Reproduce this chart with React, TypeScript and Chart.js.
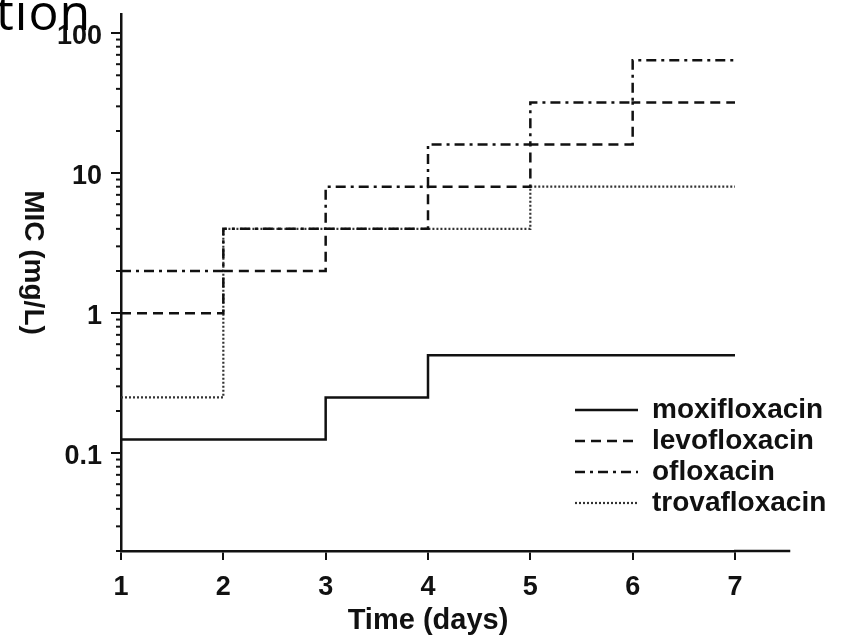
import React, { useEffect, useRef } from 'react';
import { Chart, registerables } from 'chart.js';

Chart.register(...registerables);

// ---------- data ----------
const days = [1, 2, 3, 4, 5, 6, 7];
const moxifloxacin = [0.125, 0.125, 0.25, 0.5, 0.5, 0.5, 0.5];
const levofloxacin = [1, 2, 4, 8, 16, 32, 32];
const ofloxacin = [2, 4, 8, 16, 32, 64, 64];
const trovafloxacin = [0.25, 4, 4, 4, 8, 8, 8];
const seriesNames = ['moxifloxacin', 'levofloxacin', 'ofloxacin', 'trovafloxacin'];
const yMajorTicks = [0.1, 1, 10, 100];
const yMin = 0.02;
const yMax = 137;
const xMin = 1;
const xMax = 7;
const xAxisEnd = 7.54;
const xTitle = 'Time (days)';
const yTitle = 'MIC (mg/L)';
const titleFragment = 'tion';

// ---------- styles ----------
const INK = '#111';
const FONT = '"Liberation Sans", Arial, Helvetica, sans-serif';
const MINOR_TICKS: number[] = [];
[0.01, 0.1, 1, 10].forEach((d) => {
  for (let m = 2; m <= 9; m++) MINOR_TICKS.push(+(d * m).toPrecision(3));
});

const makeSet = (label: string, vals: number[], dash: number[], color: string, width: number) => ({
  label,
  data: days.map((d, i) => ({ x: d, y: vals[i] })),
  borderColor: color,
  backgroundColor: color,
  borderWidth: width,
  borderDash: dash,
  stepped: true,
  pointRadius: 0,
  pointHoverRadius: 0,
  pointStyle: 'line',
  fill: false,
  tension: 0,
});

const decorPlugin = {
  id: 'decor',
  afterDraw(chart: any) {
    const { ctx, chartArea: ca, scales } = chart;
    const x = scales.x;
    const y = scales.y;
    ctx.save();
    ctx.strokeStyle = INK;
    ctx.lineWidth = 2;
    MINOR_TICKS.forEach((v) => {
      const py = y.getPixelForValue(v);
      if (py < ca.top - 0.5 || py > ca.bottom + 0.5) return;
      ctx.beginPath();
      ctx.moveTo(ca.left - 5, py);
      ctx.lineTo(ca.left, py);
      ctx.stroke();
    });
    // extension of the x axis line beyond the last day
    ctx.lineWidth = 2.5;
    ctx.beginPath();
    ctx.moveTo(ca.right - 1, ca.bottom);
    ctx.lineTo(x.getPixelForValue(xAxisEnd), ca.bottom);
    ctx.stroke();
    // y axis title, reading top to bottom
    ctx.translate(33, (ca.top + ca.bottom) / 2 - 20);
    ctx.rotate(Math.PI / 2);
    ctx.fillStyle = INK;
    ctx.font = `bold 28px ${FONT}`;
    ctx.textAlign = 'center';
    ctx.textBaseline = 'middle';
    ctx.fillText(yTitle, 0, 0);
    ctx.restore();
  },
};

const legendPlacer = {
  id: 'legendPlacer',
  afterLayout(chart: any) {
    const lg = chart.legend;
    const ca = chart.chartArea;
    if (!lg) return;
    lg.left = ca.left + 451;
    lg.right = chart.width;
    lg.top = ca.top;
    lg.bottom = ca.bottom - 31;
    lg.width = lg.right - lg.left;
    lg.height = lg.bottom - lg.top;
  },
};

export default function App() {
  const ref = useRef<HTMLCanvasElement>(null);

  useEffect(() => {
    const tickFont = { family: FONT, size: 27, weight: 'bold' as const };
    const chart = new Chart(ref.current as HTMLCanvasElement, {
      type: 'line',
      data: {
        datasets: [
          makeSet(seriesNames[0], moxifloxacin, [], INK, 2.5),
          makeSet(seriesNames[1], levofloxacin, [10, 6], INK, 2.5),
          makeSet(seriesNames[2], ofloxacin, [10, 5, 3, 5], INK, 2.5),
          makeSet(seriesNames[3], trovafloxacin, [2, 2], '#333', 2.2),
        ] as any,
      },
      options: {
        responsive: false,
        maintainAspectRatio: false,
        animation: false,
        events: [],
        layout: { padding: { left: 0, right: 111, top: 14, bottom: 0 } },
        scales: {
          x: {
            type: 'linear',
            min: xMin,
            max: xMax,
            afterBuildTicks: (s: any) => {
              s.ticks = days.map((v) => ({ value: v }));
            },
            afterFit: (s: any) => {
              s.height = 85;
              s.paddingLeft = 0;
              s.paddingRight = 0;
            },
            grid: { drawOnChartArea: false, drawTicks: true, tickLength: 9, color: INK, lineWidth: 2 },
            border: { display: true, color: INK, width: 2.5 },
            ticks: { color: INK, font: tickFont, padding: 11, maxRotation: 0, autoSkip: false },
            title: {
              display: true,
              text: xTitle,
              color: INK,
              font: { family: FONT, size: 29, weight: 'bold' },
              padding: { top: 0, bottom: -2 },
            },
          },
          y: {
            type: 'logarithmic',
            min: yMin,
            max: yMax,
            afterBuildTicks: (s: any) => {
              s.ticks = yMajorTicks.map((v) => ({ value: v }));
            },
            afterFit: (s: any) => {
              s.width = 121;
              s.paddingTop = 0;
              s.paddingBottom = 0;
            },
            grid: { drawOnChartArea: false, drawTicks: true, tickLength: 10, color: INK, lineWidth: 2 },
            border: { display: true, color: INK, width: 2.5 },
            ticks: {
              color: INK,
              font: tickFont,
              padding: 9,
              labelOffset: 3,
              autoSkip: false,
              callback: (v: any) => String(v),
            },
          },
        } as any,
        plugins: {
          legend: {
            position: 'chartArea' as any,
            align: 'end',
            labels: {
              usePointStyle: true,
              pointStyle: 'line',
              pointStyleWidth: 63,
              boxHeight: 28,
              color: INK,
              padding: 3,
              font: { family: FONT, size: 28, weight: 'bold' },
              sort: (a: any, b: any) => a.datasetIndex - b.datasetIndex,
              generateLabels: (c: any) => {
                const items = (Chart.defaults as any).plugins.legend.labels.generateLabels(c);
                items.forEach((it: any) => {
                  const ds = c.data.datasets[it.datasetIndex];
                  it.lineDash = ds.borderDash;
                  it.lineWidth = ds.borderWidth;
                  it.strokeStyle = ds.borderColor;
                  it.pointStyle = 'line';
                });
                return items;
              },
            },
          },
          tooltip: { enabled: false },
          title: { display: false },
        },
      },
      plugins: [legendPlacer, decorPlugin],
    });
    return () => chart.destroy();
  }, []);

  return (
    <div
      style={{
        position: 'fixed',
        left: 0,
        top: 0,
        width: 846,
        height: 636,
        background: '#fff',
        overflow: 'hidden',
      }}
    >
      <canvas
        ref={ref}
        width={846}
        height={636}
        style={{ position: 'absolute', left: 0, top: 0, width: 846, height: 636 }}
      />
      <div
        style={{
          position: 'absolute',
          left: -4,
          top: -14,
          fontFamily: '"Open Sans", "Noto Sans", sans-serif',
          fontSize: 50,
          lineHeight: '50px',
          letterSpacing: 1,
          color: '#000',
          whiteSpace: 'nowrap',
        }}
      >
        {titleFragment}
      </div>
    </div>
  );
}
